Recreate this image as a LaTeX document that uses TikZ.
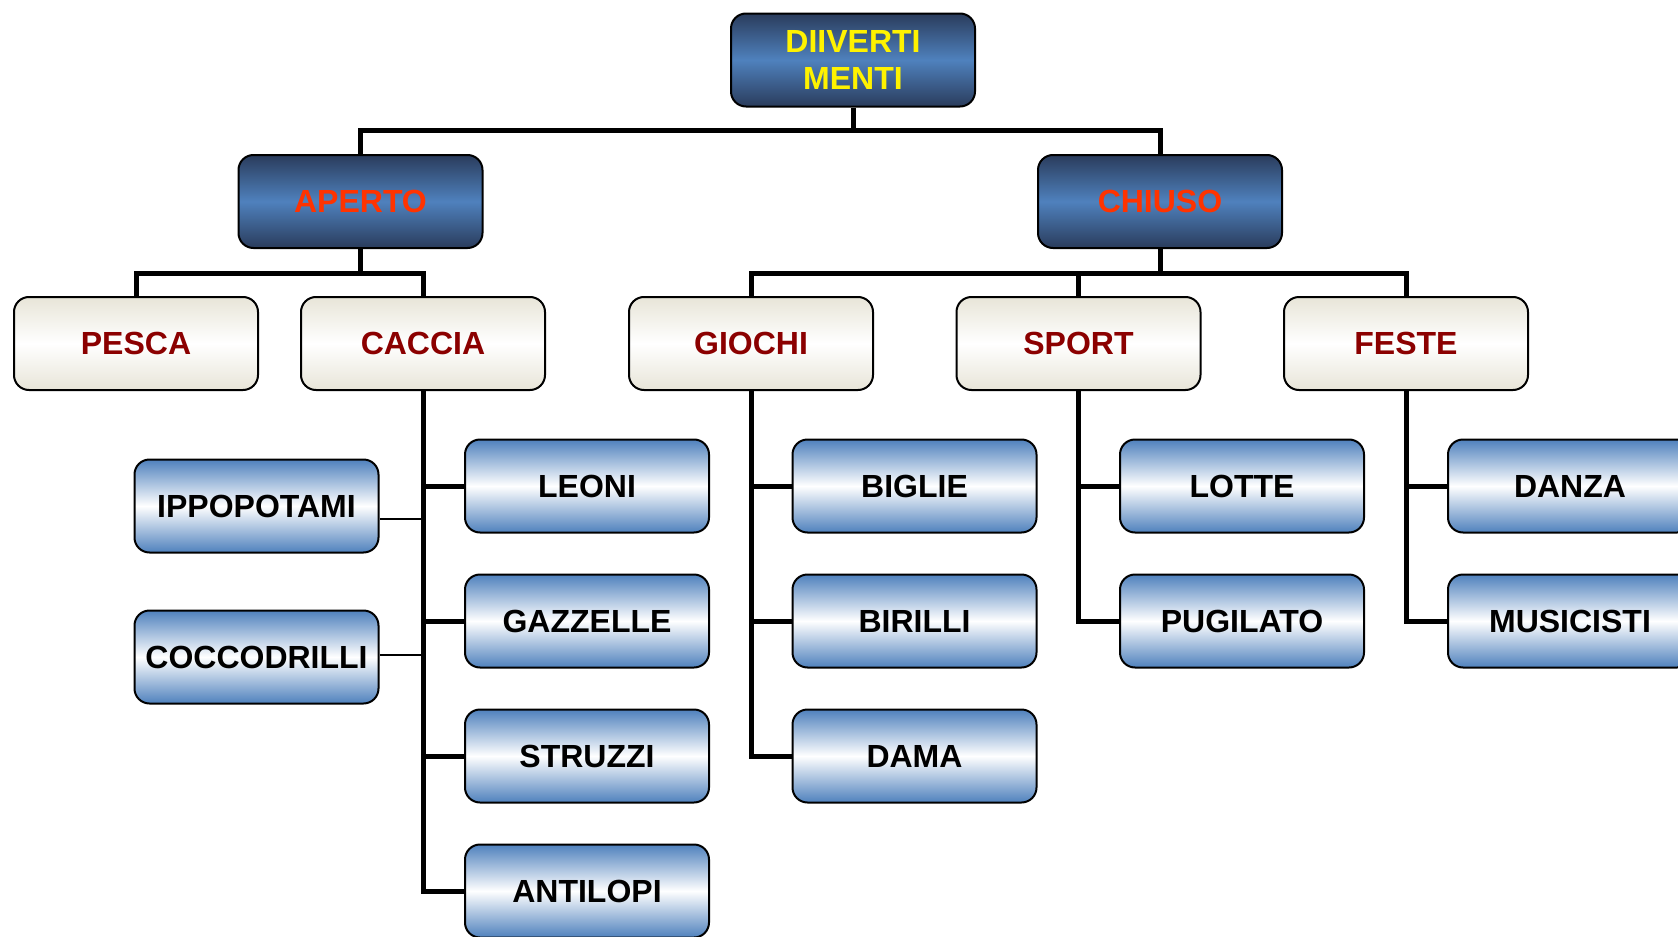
\documentclass[tikz,border=0pt]{standalone}
\usepackage{fontspec}
\setmainfont{Liberation Sans}
\definecolor{navy}{HTML}{2A3C5C}
\definecolor{officeblue}{HTML}{4F81BD}
\definecolor{cream}{HTML}{E8E5D8}
\definecolor{darkred}{HTML}{8B0000}
\definecolor{orangered}{HTML}{FF3300}
\begin{document}
\begin{tikzpicture}[x=0.5pt, y=-0.5pt, font=\bfseries\fontsize{16}{18.5}\selectfont,
		box/.style={draw=black, line width=1pt, rounded corners=7.5pt, minimum width=122pt, minimum height=46.5pt, align=center, inner sep=0pt},
		rootbox/.style={box, top color=navy, bottom color=navy, middle color=officeblue, text=yellow},
		groupbox/.style={box, top color=navy, bottom color=navy, middle color=officeblue, text=orangered},
		catbox/.style={box, top color=cream, bottom color=cream, middle color=white, text=darkred},
		itembox/.style={box, top color=officeblue, bottom color=officeblue, middle color=white, text=black},
		link/.style={line width=2.5pt},
		thinlink/.style={line width=0.75pt}]
			\clip (0,0) rectangle (1678,937);
			% top levels
			\node[rootbox] (root) at (853,60) {DIIVERTI\\MENTI};
			\node[groupbox] (aperto) at (360.5,201.5) {APERTO};
			\node[groupbox] (chiuso) at (1160,201.5) {CHIUSO};
			\node[catbox] (pesca) at (136,343.5) {PESCA};
			\node[catbox] (caccia) at (423,343.5) {CACCIA};
			\node[catbox] (giochi) at (751,343.5) {GIOCHI};
			\node[catbox] (sport) at (1078.5,343.5) {SPORT};
			\node[catbox] (feste) at (1406,343.5) {FESTE};
			% caccia
			\node[itembox] (leoni) at (587,486) {LEONI};
			\node[itembox] (gazzelle) at (587,621) {GAZZELLE};
			\node[itembox] (struzzi) at (587,756) {STRUZZI};
			\node[itembox] (antilopi) at (587,891) {ANTILOPI};
			\node[itembox] (ippo) at (256.5,506) {IPPOPOTAMI};
			\node[itembox] (cocco) at (256.5,657) {COCCODRILLI};
			% giochi, sport, feste
			\node[itembox] (biglie) at (914.5,486) {BIGLIE};
			\node[itembox] (birilli) at (914.5,621) {BIRILLI};
			\node[itembox] (dama) at (914.5,756) {DAMA};
			\node[itembox] (lotte) at (1242,486) {LOTTE};
			\node[itembox] (pugilato) at (1242,621) {PUGILATO};
			\node[itembox] (danza) at (1570,486) {DANZA};
			\node[itembox] (musicisti) at (1570,621) {MUSICISTI};
			% buses
			\coordinate (b1) at (853,130.5);
			\coordinate (b2) at (360.5,273);
			\coordinate (b3) at (1160,273);
			\draw[link] (root.south) -- (b1);
			\draw[link] (aperto.north) |- (b1) -| (chiuso.north);
			\draw[link] (aperto.south) -- (b2);
			\draw[link] (pesca.north) |- (b2) -| (caccia.north);
			\draw[link] (chiuso.south) -- (b3);
			\draw[link] (giochi.north) |- (b3) -| (feste.north);
			\draw[link] (sport.north) -- (sport.north |- b3);
			% branches
			\draw[link] (caccia.south) |- (antilopi.west);
			\draw[link] (caccia.south |- leoni.west) -- (leoni.west);
			\draw[link] (caccia.south |- gazzelle.west) -- (gazzelle.west);
			\draw[link] (caccia.south |- struzzi.west) -- (struzzi.west);
			\draw[link] (giochi.south) |- (dama.west);
			\draw[link] (giochi.south |- biglie.west) -- (biglie.west);
			\draw[link] (giochi.south |- birilli.west) -- (birilli.west);
			\draw[link] (sport.south) |- (pugilato.west);
			\draw[link] (sport.south |- lotte.west) -- (lotte.west);
			\draw[link] (feste.south) |- (musicisti.west);
			\draw[link] (feste.south |- danza.west) -- (danza.west);
			\coordinate (ippoend) at ([yshift=-6.5pt]ippo.east);
			\coordinate (coccoend) at ([yshift=1pt]cocco.east);
			\draw[thinlink] (ippoend) -- (caccia.south |- ippoend);
			\draw[thinlink] (coccoend) -- (caccia.south |- coccoend);
		\end{tikzpicture}
\end{document}
